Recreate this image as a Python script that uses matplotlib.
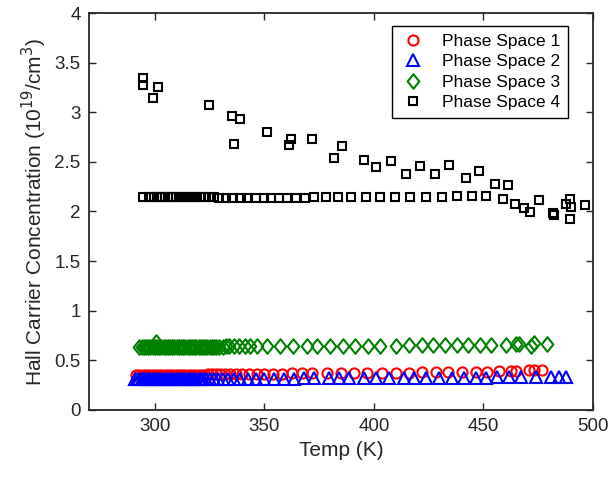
import numpy as np
import matplotlib
matplotlib.use("Agg")
from matplotlib import pyplot as plt
from matplotlib.path import Path
from matplotlib.ticker import FormatStrFormatter

plt.rcParams['font.family'] = ['Liberation Sans', 'DejaVu Sans']

# Phase Space 1 (red circles)
t1 = [291.5, 293, 294.5, 296, 297.5, 299, 300.5, 302, 303.5, 305,
      306.5, 308, 309.5, 311, 312.5, 314, 315.5, 317, 318.5, 320,
      321.5, 323, 324.5, 326, 328, 330, 332, 334.5, 337, 340,
      343, 346.5, 350, 354, 358, 362.5, 367,
      371.7, 378.5, 385, 391, 396.8, 403.7, 410, 416, 422, 428.3,
      434, 440, 446.6, 451.6, 457, 462.6, 464.8, 470.8, 473, 476.7]
c1 = [0.35, 0.35, 0.35, 0.35, 0.35, 0.35, 0.35, 0.35, 0.35, 0.35,
      0.35, 0.355, 0.355, 0.355, 0.355, 0.355, 0.355, 0.355, 0.355, 0.355,
      0.355, 0.355, 0.36, 0.36, 0.36, 0.36, 0.36, 0.36, 0.36, 0.36,
      0.365, 0.365, 0.365, 0.365, 0.365, 0.37, 0.37,
      0.37, 0.37, 0.37, 0.375, 0.375, 0.375, 0.375, 0.375, 0.38, 0.38,
      0.38, 0.38, 0.385, 0.385, 0.39, 0.39, 0.39, 0.405, 0.40, 0.405]

# Phase Space 2 (blue triangles)
t2 = [291, 292, 293, 294, 295, 296, 297, 298, 299, 300,
      301, 302, 303, 304, 305, 306, 307, 308, 309, 310,
      311, 312, 313, 314, 315, 316, 317, 318, 319, 320,
      321, 322, 323.5, 325, 327, 329, 331, 333.5, 336, 339,
      342.5, 346, 350, 354.5, 359, 363.5,
      368, 372.6, 379.5, 384, 388.6, 395.4, 401, 407, 413.7, 418.3,
      423.7, 429.7, 435.6, 441, 446.6, 451, 456, 461.6, 467, 473.8,
      480.7, 484.5, 487.5]
c2 = [0.31, 0.31, 0.31, 0.31, 0.31, 0.31, 0.31, 0.31, 0.31, 0.31,
      0.31, 0.31, 0.31, 0.31, 0.31, 0.31, 0.31, 0.31, 0.31, 0.31,
      0.31, 0.31, 0.31, 0.31, 0.31, 0.315, 0.315, 0.315, 0.315, 0.315,
      0.315, 0.315, 0.315, 0.315, 0.315, 0.315, 0.315, 0.315, 0.315, 0.315,
      0.315, 0.315, 0.315, 0.315, 0.315, 0.315,
      0.32, 0.32, 0.32, 0.32, 0.32, 0.32, 0.32, 0.32, 0.32, 0.32,
      0.32, 0.325, 0.325, 0.325, 0.325, 0.325, 0.33, 0.33, 0.33, 0.335,
      0.335, 0.335, 0.335]

# Phase Space 3 (green diamonds)
t3 = [293, 294, 295, 296, 297, 298, 299, 300, 300.5, 301,
      302, 303, 304, 305, 306, 307, 308, 309, 310, 311,
      312, 313, 314, 315, 316, 317, 318, 319, 320, 321,
      322, 323, 324, 325, 326, 327, 328,
      329.5, 331, 332.5, 334, 336, 338.5, 341, 343.5, 346.5,
      351, 357, 363, 369.5, 374, 380, 386, 391.5, 397.5, 403,
      410, 416, 422, 427, 432.5, 438, 443, 448.5, 453.4, 460.3,
      464.8, 466, 471.7, 473, 479]
c3 = [0.63, 0.63, 0.63, 0.63, 0.63, 0.63, 0.63, 0.63, 0.69, 0.63,
      0.63, 0.63, 0.63, 0.63, 0.63, 0.63, 0.63, 0.63, 0.63, 0.63,
      0.635, 0.635, 0.635, 0.635, 0.635, 0.635, 0.635, 0.635, 0.635, 0.635,
      0.635, 0.635, 0.635, 0.635, 0.635, 0.635, 0.635,
      0.635, 0.635, 0.64, 0.64, 0.64, 0.64, 0.64, 0.64, 0.64,
      0.64, 0.64, 0.64, 0.64, 0.645, 0.645, 0.645, 0.645, 0.645, 0.645,
      0.645, 0.65, 0.65, 0.65, 0.65, 0.65, 0.65, 0.655, 0.655, 0.655,
      0.66, 0.66, 0.645, 0.67, 0.665]

# Phase Space 4 (black squares), scattered set
t4a = [294.5, 294.5, 301.4, 299.1, 324.7, 335.2, 338.8, 336.1, 351.1, 361.2,
       362.1, 371.7, 381.7, 385.4, 395.4, 400.9, 407.8, 414.6, 421.0, 427.9,
       434.2, 442.0, 448.0, 455.3, 461.2, 482.2, 489.5, 489.5]
c4a = [3.35, 3.27, 3.25, 3.14, 3.07, 2.96, 2.93, 2.68, 2.80, 2.67,
       2.73, 2.73, 2.54, 2.66, 2.52, 2.45, 2.51, 2.38, 2.46, 2.38,
       2.47, 2.34, 2.41, 2.28, 2.27, 1.96, 2.13, 1.92]

# Phase Space 4 (black squares), flat set
t4b = [294.5, 297.3, 298.5, 299.7, 301, 302.2, 303.5, 304.7, 306, 307.2,
       308.5, 309.7, 311, 312.3, 313.6, 315, 316.4, 317.8, 319.3, 320.8,
       322.5, 324.7, 327, 329.2, 332.4, 335.2, 339.3, 342, 346.1, 349.8,
       353, 356.6, 360.3, 364.4, 368.5, 372.6, 378, 383.6, 389.5, 396.3,
       402.7, 409.6, 416.4, 423.7, 431, 437.9, 444.7, 451.1, 458.9, 464.4,
       468.5, 471.2, 475.3, 481.7, 487.7, 490, 496.3]
c4b = [2.15, 2.15, 2.15, 2.15, 2.15, 2.15, 2.15, 2.15, 2.15, 2.15,
       2.15, 2.15, 2.15, 2.15, 2.15, 2.15, 2.15, 2.145, 2.145, 2.145,
       2.145, 2.145, 2.145, 2.14, 2.14, 2.14, 2.14, 2.14, 2.14, 2.14,
       2.14, 2.14, 2.14, 2.14, 2.14, 2.145, 2.145, 2.145, 2.145, 2.15,
       2.15, 2.15, 2.15, 2.15, 2.15, 2.155, 2.155, 2.16, 2.13, 2.08,
       2.04, 1.99, 2.12, 1.98, 2.08, 2.05, 2.07]

xticks = [300, 350, 400, 450, 500]
yticks = [0, 0.5, 1, 1.5, 2, 2.5, 3, 3.5, 4]

# diamond a bit taller than wide
diamond = Path([(0, 1), (0.8, 0), (0, -1), (-0.8, 0), (0, 1)],
               [Path.MOVETO, Path.LINETO, Path.LINETO, Path.LINETO, Path.CLOSEPOLY])

fig = plt.figure(figsize=(6.16, 4.78), dpi=100)
ax = fig.add_axes([0.1445, 0.1423, 0.8182, 0.8305])

mk = dict(linestyle='none', markerfacecolor='none', markeredgewidth=1.5)
ax.plot(t1, c1, marker='o', color='#ff0000', markersize=7.3, label='Phase Space 1', **mk)
ax.plot(t2, c2, marker='^', color='#0000ff', markersize=8.2, label='Phase Space 2', **mk)
ax.plot(t3, c3, marker=diamond, color='#008000', markersize=10.5, label='Phase Space 3', **mk)
ax.plot(t4a, c4a, marker='s', color='black', markersize=5.8, label='Phase Space 4', **mk)
ax.plot(t4b, c4b, marker='s', color='black', markersize=5.8, **mk)

ax.set_xlim(270, 500)
ax.set_ylim(0, 4)
ax.set_xticks(xticks)
ax.set_yticks(yticks)
ax.yaxis.set_major_formatter(FormatStrFormatter('%g'))
ax.tick_params(direction='in', length=5, width=1, top=True, right=True,
               labelsize=13.5, colors='#262626', pad=6)
for s in ax.spines.values():
    s.set_linewidth(1.3)
    s.set_color('#262626')

ax.set_xlabel('Temp (K)', fontsize=15, color='#262626')
ax.set_ylabel('Hall Carrier Concentration (10$^{19}$/cm$^3$)', fontsize=15, color='#262626')

leg = ax.legend(loc='upper right', bbox_to_anchor=(0.950, 0.967), borderaxespad=0,
                fontsize=12.5, fancybox=False, edgecolor='black', framealpha=1,
                handlelength=1.5, handletextpad=0.9, labelspacing=0.3, borderpad=0.45)
leg.get_frame().set_linewidth(1.0)

fig.savefig('out.png', dpi=100)
